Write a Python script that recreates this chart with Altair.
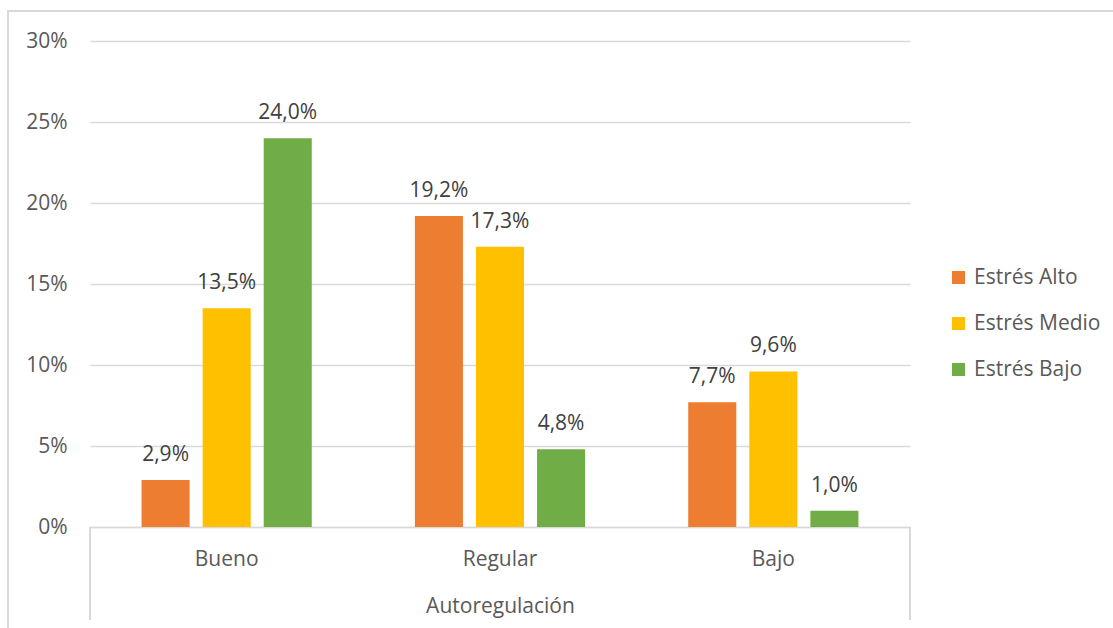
import altair as alt
import pandas as pd

categories = ["Bueno", "Regular", "Bajo"]
series = ["Estrés Alto", "Estrés Medio", "Estrés Bajo"]
alto = [2.9, 19.2, 7.7]
medio = [13.5, 17.3, 9.6]
bajo = [24.0, 4.8, 1.0]
colors = ["#ED7D31", "#FFC000", "#70AD47"]

rows = []
for s, vals in zip(series, [alto, medio, bajo]):
    for c, v in zip(categories, vals):
        rows.append({"cat": c, "serie": s, "val": v / 100,
                     "label": f"{v:.1f}".replace(".", ",") + "%"})
df = pd.DataFrame(rows)

FONT = "Open Sans"
GRID = "#D9D9D9"
FS = 21

x = alt.X("cat:N", sort=categories,
          scale=alt.Scale(paddingInner=0, paddingOuter=0),
          axis=alt.Axis(title="Autoregulación", labelAngle=0, ticks=False, grid=False,
                        domainColor=GRID, domainWidth=1.5,
                        labelPadding=21, labelFontSize=FS, labelColor="#595959",
                        labelFont=FONT, titleFont=FONT, titleFontSize=FS,
                        titleFontWeight="normal", titleColor="#595959",
                        titleY=79, titleBaseline="middle"))
xo = alt.XOffset("serie:N", sort=series,
                 scale=alt.Scale(paddingInner=0.213, paddingOuter=0.844))
y = alt.Y("val:Q", scale=alt.Scale(domain=[0, 0.3], nice=False),
          axis=alt.Axis(title=None, format=".0%", values=[0, 0.05, 0.1, 0.15, 0.2, 0.25, 0.3],
                        domain=False, ticks=False, gridColor=GRID, gridWidth=1.5,
                        labelPadding=23, labelFontSize=FS, labelColor="#595959",
                        labelFont=FONT))

color = alt.Color("serie:N", sort=series,
                  scale=alt.Scale(domain=series, range=colors),
                  legend=alt.Legend(title=None, orient="none", legendX=858, legendY=226,
                                    symbolType="square", symbolSize=169,
                                    symbolStrokeWidth=0, labelFontSize=FS,
                                    labelFont=FONT, labelColor="#595959",
                                    labelOffset=5, rowPadding=24))

base = alt.Chart(df)
bars = base.mark_bar().encode(x=x, xOffset=xo, y=y, color=color)
labels = base.mark_text(baseline="bottom", dy=-15, fontSize=FS, font=FONT,
                        color="#404040").encode(x=x, xOffset=xo, y=y, text="label:N")

frame = base.mark_rect(fill=None, stroke=GRID, strokeWidth=1.5).encode(
    x=alt.value(-82), x2=alt.value(1200), y=alt.value(-30), y2=alt.value(700))
sep_left = base.mark_rect(fill=GRID).encode(
    x=alt.value(-0.75), x2=alt.value(0.75), y=alt.value(486), y2=alt.value(579))
sep_right = base.mark_rect(fill=GRID).encode(
    x=alt.value(819.25), x2=alt.value(820.75), y=alt.value(486), y2=alt.value(579))

chart = alt.layer(frame, sep_left, sep_right, bars, labels).properties(
    width=820, height=486,
    background="white",
    autosize=alt.AutoSizeParams(type="none"),
    padding={"left": 90, "top": 41, "right": 203, "bottom": 101},
).configure_view(stroke=None)

chart.save("out.html", embed_options={"renderer": "svg", "actions": False})
